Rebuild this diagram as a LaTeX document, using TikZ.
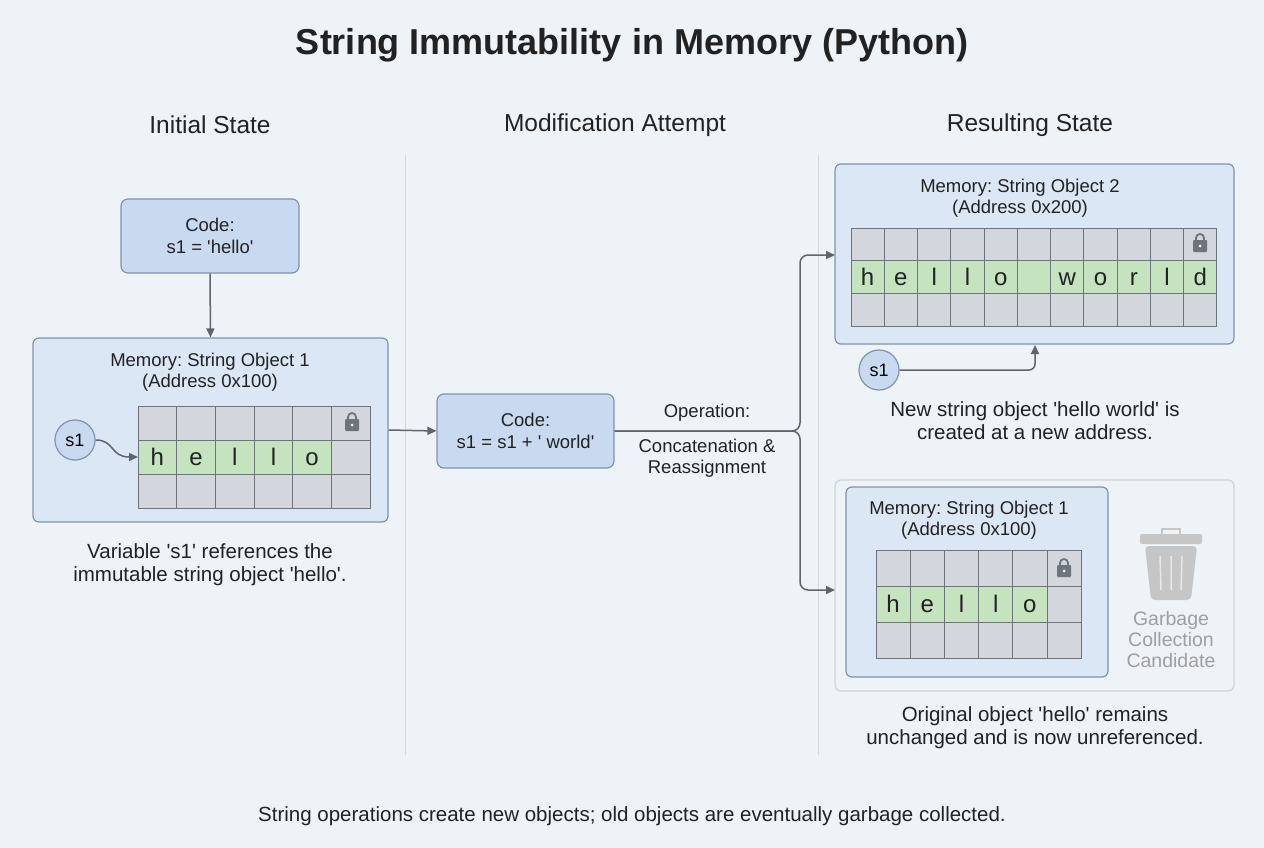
\documentclass[tikz,border=0pt]{standalone}
\usepackage{fontspec}
\setmainfont{Liberation Sans}
\usetikzlibrary{arrows.meta}
\frenchspacing
\newcommand{\q}{\textquotesingle}
\definecolor{bg}{HTML}{EEF3F8}
\definecolor{boxf}{HTML}{C9DAF0}
\definecolor{boxd}{HTML}{7F93AD}
\definecolor{memf}{HTML}{DCE7F5}
\definecolor{cellf}{HTML}{D3D7DD}
\definecolor{cellg}{HTML}{C4E3BE}
\definecolor{cellb}{HTML}{6E747B}
\definecolor{ln}{HTML}{5F656C}
\definecolor{txt}{HTML}{222222}
\tikzset{
 x=1pt,y=-1pt,
 codebox/.style={draw=boxd,fill=boxf,rounded corners=7pt,line width=1.2pt,align=center,font=\fontsize{18.5}{22}\selectfont,text=txt},
 membox/.style={draw=boxd,fill=memf,rounded corners=6pt,line width=1.2pt},
 circ/.style={circle,draw=boxd,fill=boxf,line width=1.2pt,minimum size=40pt,inner sep=0pt,font=\fontsize{18}{21}\selectfont},
 conn/.style={draw=ln,line width=1.5pt,-{Triangle[length=9pt,width=8pt]}},
 lbl/.style={align=center,font=\fontsize{20.5}{23}\selectfont,text=txt},
 mlbl/.style={align=center,font=\fontsize{18.5}{21}\selectfont,text=txt},
 hdr/.style={font=\fontsize{24.5}{28}\selectfont,text=txt},
 cell/.style={draw=cellb,line width=1pt,fill=cellf},
}
\newcommand{\grid}[7]{% x0 y0 w h ncols ngreen letters
 \foreach \i in {1,...,#5}{
  \foreach \j in {0,1,2}{
   \pgfmathsetmacro{\xa}{#1+(\i-1)*#3}
   \pgfmathsetmacro{\ya}{#2+\j*#4}
   \ifnum\j=1 \ifnum\i>#6 \def\cf{cellf}\else\def\cf{cellg}\fi\else\def\cf{cellf}\fi
   \filldraw[cell,fill=\cf] (\xa,\ya) rectangle ++(#3,#4);
  }}
 \foreach \l [count=\k] in {#7}{
   \node[font=\fontsize{24}{28}\selectfont,text=txt,anchor=base,inner sep=0pt] at ({#1+(\k-0.5)*#3},{#2+1.5*#4+8.5}) {\l};}
}
\newcommand{\lockat}[2]{%
 \draw[cellb,line width=1.8pt] (#1-4,#2-2) -- (#1-4,#2-5) arc[start angle=180,end angle=360,radius=4] -- (#1+4,#2-2);
 \fill[cellb,rounded corners=1pt] (#1-7,#2-3) rectangle (#1+7,#2+9);
 \fill[white] (#1,#2+3) circle (1.5);
}
\begin{document}
\begin{tikzpicture}
\useasboundingbox (0,0) rectangle (1264,848);
\fill[bg] (0,0) rectangle (1264,848);
\node[font=\bfseries\fontsize{36}{40}\selectfont,text=txt] (title) at (632,45) {String Immutability in Memory (Python)};
\node[hdr] (h1) at (210,125) {Initial State};
\node[hdr] (h2) at (615,125) {Modification Attempt};
\node[hdr] (h3) at (1030,125) {Resulting State};
\draw[draw=gray!30,line width=1pt] (405,155) -- (405,755) (818,155) -- (818,755);
% initial
\node[codebox,minimum width=178pt,minimum height=74pt] (c1) at (210,236) {Code:\\s1 = \q hello\q};
\node[membox,minimum width=355pt,minimum height=184pt] (m1) at (210.5,430) {};
\node[mlbl] at (210,372) {Memory: String Object 1\\(Address 0x100)};
\grid{138}{406}{38.7}{34}{6}{5}{h,e,l,l,o}
\lockat{352}{422}
\node[circ] (s1a) at (75,440) {s1};
\coordinate (g1) at (138,457);
\draw[conn] (s1a.east) .. controls (115,440) and (110,457) .. (g1);
\draw[conn] (c1.south) -- (m1.north);
\node[lbl] (t1) at (210,565) {Variable \q s1\q{} references the\\immutable string object \q hello\q.};
% modification
\node[codebox,minimum width=177pt,minimum height=74pt] (c2) at (525.5,431) {Code:\\s1 = s1 + \q{} world\q};
\draw[conn] (m1.east) -- (c2.west);
\node[mlbl] (op1) at (707,413) {Operation:};
\node[mlbl,font=\fontsize{18.5}{21}\selectfont] (op2) at (707,458) {Concatenation \&\\Reassignment};
% result top
\node[membox,minimum width=399pt,minimum height=180pt] (m2) at (1034.5,254) {};
\node[mlbl] at (1020,198) {Memory: String Object 2\\(Address 0x200)};
\grid{851}{228}{33.27}{32.7}{11}{11}{h,e,l,l,o,{},w,o,r,l,d}
\lockat{1200}{243}
\node[circ] (s1b) at (879,370) {s1};
\coordinate (g2) at (1035,345);
\draw[conn,rounded corners=6pt] (s1b.east) -- (1035,370) -- (g2);
\node[lbl] (t2) at (1035,421) {New string object \q hello world\q{} is\\created at a new address.};
% result bottom
\node[draw=gray!35,line width=1.2pt,rounded corners=6pt,minimum width=399pt,minimum height=211pt] (gc) at (1034.5,585.5) {};
\node[membox,minimum width=262pt,minimum height=190pt] (m3) at (977,582) {};
\node[mlbl] at (969,520) {Memory: String Object 1\\(Address 0x100)};
\grid{876}{550}{34.2}{36}{6}{5}{h,e,l,l,o}
\lockat{1064}{568}
% trash
\begin{scope}[gray!45]
\fill[rounded corners=2pt] (1140,534) rectangle (1202,544);
\draw[line width=2.5pt] (1162,535) -- (1162,529) -- (1180,529) -- (1180,535);
\fill[rounded corners=4pt] (1145,546) -- (1197,546) -- (1191,600) -- (1151,600) -- cycle;
\draw[white!60!gray!45,line width=1.5pt] (1160,556) -- (1161,590) (1171,556) -- (1171,590) (1182,556) -- (1181,590);
\end{scope}
\node[lbl,text=gray!75!white,font=\fontsize{19.5}{21}\selectfont] (gct) at (1171,640) {Garbage\\Collection\\Candidate};
\node[lbl] (t3) at (1035,728) {Original object \q hello\q{} remains\\unchanged and is now unreferenced.};
% branches
\coordinate (b1) at (835,255);
\coordinate (b2) at (835,590);
\draw[conn,rounded corners=8pt] (c2.east) -- (800,431) -- (800,255) -- (b1);
\draw[conn,rounded corners=8pt] (c2.east) -- (800,431) -- (800,590) -- (b2);
\node[lbl] (foot) at (632,816) {String operations create new objects; old objects are eventually garbage collected.};
\end{tikzpicture}
\end{document}
